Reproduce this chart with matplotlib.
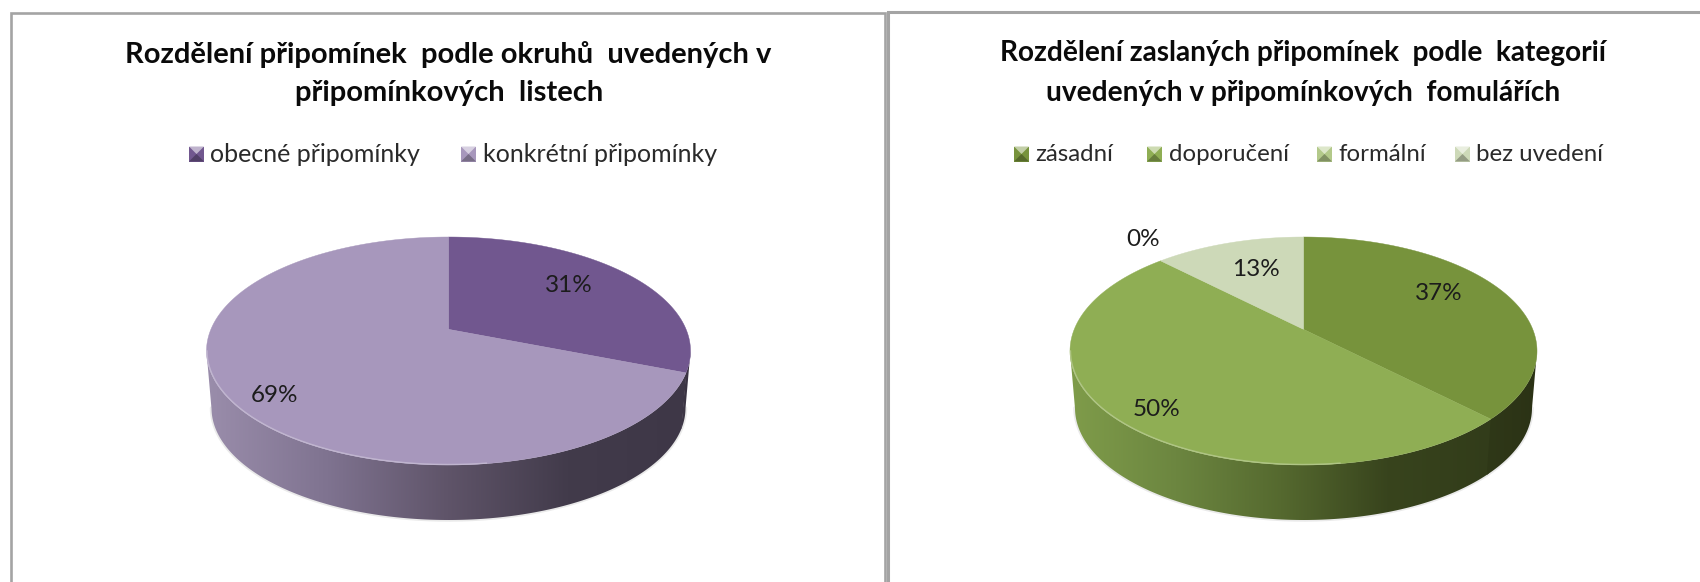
import numpy as np
import matplotlib
matplotlib.use("Agg")
import matplotlib.pyplot as plt
from matplotlib.colors import LinearSegmentedColormap
from matplotlib.patches import Polygon

plt.rcParams['font.family'] = ['Lato', 'DejaVu Sans']

# ---- data ----
left_categories = ["obecné připomínky", "konkrétní připomínky"]
left_values = [31, 69]
left_labels = ["31%", "69%"]
right_categories = ["zásadní", "doporučení", "formální", "bez uvedení"]
right_values = [37.5, 50, 0, 12.5]
right_labels = ["37%", "50%", "0%", "13%"]
left_title = ["Rozdělení připomínek  podle okruhů  uvedených v", "připomínkových  listech"]
right_title = ["Rozdělení zaslaných připomínek  podle  kategorií", "uvedených v připomínkových  fomulářích"]

# ---- styles ----
left_colors = ["#71578f", "#a797bc"]
right_colors = ["#77933c", "#8fae54", "#b3c98a", "#cdd9b8"]
left_walls = [["#3f3848", "#37303f"], ["#9a8dab", "#7f7390", "#5f5469", "#423b4b", "#3e3747"]]
right_walls = [["#2f3818", "#2b3215"], ["#7f9c4a", "#6c8640", "#55692f", "#38441d", "#323c1a"],
               ["#777777", "#777777"], ["#777777", "#777777"]]
TEXT = "#1c1c1c"
BORDER = "#a4a4a4"
S = 0.19              # perspective shift of the pie apex


def project(t):
    """t: clockwise angle from top. Returns the unit-disc position seen in perspective."""
    X, Y = np.sin(t), np.cos(t)
    d = 1 + S * Y
    return X * np.sqrt(1 - S ** 2) / d, (Y + S) / d


def draw_pie(ax, values, colors, walls, cx, cy, a, b, wall_h, inset):
    bcx, bb, ba = cx, b - 2, a - inset
    bcy = cy + wall_h + 2
    fr = np.array(values, float) / sum(values)
    edges = np.concatenate([[0], np.cumsum(fr)]) * 2 * np.pi

    # soft ground edge
    th = np.linspace(np.pi, 2 * np.pi, 200)
    ax.plot(bcx + ba * np.cos(th), bcy - bb * np.sin(th), color="#555555", lw=2.5, alpha=.12, zorder=1,
            solid_capstyle="round")

    # walls (each slightly overlaps its neighbour so that no seam shows)
    for i, f in enumerate(fr):
        if f == 0:
            continue
        t = np.linspace(edges[i] - 0.012, edges[i + 1] + 0.0, 500)
        X, Y = project(t)
        keep = Y <= 0
        if keep.sum() < 2:
            continue
        X, Y = X[keep], Y[keep]
        top = np.column_stack([cx + a * X, cy - b * Y])
        bot = np.column_stack([bcx + ba * X, bcy - bb * Y])[::-1]
        poly = Polygon(np.vstack([top, bot]), closed=True, transform=ax.transData, fc="none", ec="none")
        ax.add_patch(poly)
        cmap = LinearSegmentedColormap.from_list("w", walls[i])
        pts = np.vstack([top, bot])
        x0, x1 = pts[:, 0].min(), pts[:, 0].max()
        y0, y1 = pts[:, 1].min(), pts[:, 1].max()
        im = ax.imshow(np.linspace(0, 1, 256)[None, :], cmap=cmap, aspect="auto",
                       extent=(x0, x1, y1, y0), zorder=2 - i * 0.01, interpolation="bilinear")
        im.set_clip_path(poly)

    # top faces
    apex = (cx, cy - b * S)
    for i, f in enumerate(fr):
        if f == 0:
            continue
        t = np.linspace(edges[i], edges[i + 1], 400)
        X, Y = project(t)
        pts = np.column_stack([cx + a * X, cy - b * Y])
        ax.add_patch(Polygon(np.vstack([apex, pts]), closed=True, fc=colors[i], ec=colors[i], lw=0.3, zorder=3))

    # light rim along the front-left of the top face
    rim = np.linspace(np.pi, 1.55 * np.pi, 150)
    rc = matplotlib.colors.to_rgb(colors[int(np.argmax(fr))])
    light = tuple(min(1, c * 0.6 + 0.4) for c in rc)
    ax.plot(cx + (a - .5) * np.cos(rim), cy - (b - .5) * np.sin(rim), color=light, lw=1.0, alpha=.7, zorder=4)


def swatch(ax, x, y, color, size=15):
    base = np.array(matplotlib.colors.to_rgb(color))
    lt = base * .45 + .55
    dk = base * .72
    x1, y1 = x + size, y + size
    c = (x + size / 2, y + size / 2)
    ax.add_patch(Polygon([(x, y), (x1, y), (x1, y1), (x, y1)], fc=base, ec="none", zorder=5))
    ax.add_patch(Polygon([(x, y), (x1, y), c], fc=lt, ec="none", zorder=6))
    ax.add_patch(Polygon([(x, y1), (x1, y1), c], fc=dk, ec="none", zorder=6))


fig = plt.figure(figsize=(17, 5.82), dpi=100, facecolor="white")
ax = fig.add_axes([0, 0, 1, 1])
ax.set_axis_off()

# panel frames
ax.plot([11.5, 11.5, 885.5, 885.5], [582, 13, 13, 582], color=BORDER, lw=1.9, solid_joinstyle="miter")
ax.plot([888, 888, 1700], [582, 11.5, 11.5], color=BORDER, lw=2.2, solid_joinstyle="miter")

draw_pie(ax, left_values, left_colors, left_walls, 448.5, 351, 242, 114, 55, 5)
draw_pie(ax, right_values, right_colors, right_walls, 1303.5, 351, 233.5, 114, 55, 5)

# titles
T = dict(ha="center", va="center", fontweight="bold", color="#0a0a0a", zorder=8)
ax.text(448, 54.5, left_title[0], fontsize=21, **T)
ax.text(449, 93.5, left_title[1], fontsize=21, **T)
ax.text(1303, 53.5, right_title[0], fontsize=20.2, **T)
ax.text(1303, 92.5, right_title[1], fontsize=20.2, **T)

# legends
L = dict(ha="left", va="center", color="#2a2a2a", zorder=8)
for name, col, sx, tx in zip(left_categories, left_colors, [189, 461], [210.5, 483.5]):
    swatch(ax, sx, 146.5, col)
    ax.text(tx, 154.5, name, fontsize=18, **L)
for name, col, sx, tx in zip(right_categories, right_colors, [1014, 1147, 1317, 1455], [1035.5, 1169, 1338, 1476.5]):
    swatch(ax, sx, 146.5, col)
    ax.text(tx, 154.5, name, fontsize=17.3, **L)

# slice labels
P = dict(ha="center", va="center", fontsize=17.5, color=TEXT, zorder=8)
for lab, (x, y) in zip(left_labels, [(569, 286), (275, 395)]):
    ax.text(x, y, lab, **P)
for lab, (x, y) in zip(right_labels, [(1439, 294), (1157, 409), (1143, 239), (1256, 270)]):
    ax.text(x, y, lab, **P)

ax.set_xlim(0, 1700)
ax.set_ylim(582, 0)
fig.savefig("out.png", dpi=100, facecolor="white")
